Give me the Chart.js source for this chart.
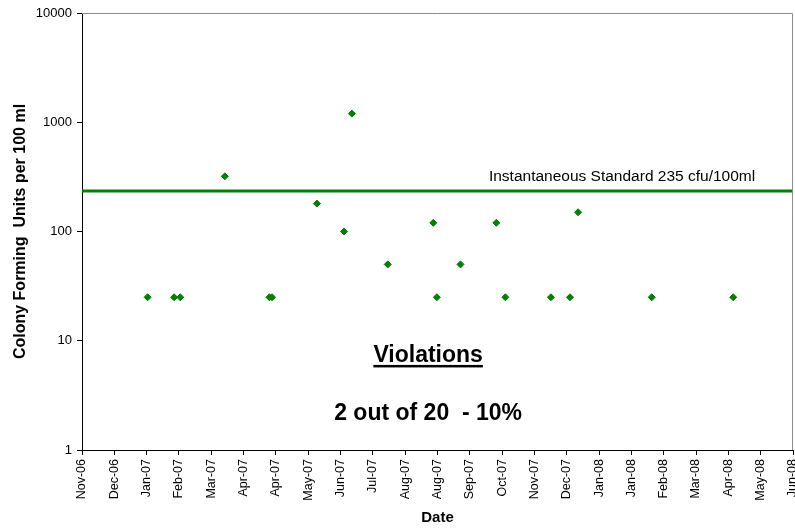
<!DOCTYPE html>
<html>
<head>
<meta charset="utf-8">
<script src="https://cdn.jsdelivr.net/npm/chart.js@4/dist/chart.umd.min.js"></script>
<style>
  html, body { margin: 0; padding: 0; background: #fff; }
  #wrap { width: 795px; height: 529px; }
</style>
</head>
<body>
<div id="wrap"><canvas id="cfu-chart" width="795" height="529"></canvas></div>
<script>
// date axis labels (Excel-style, one tick per step)
const dateTickLabels = ['Nov-06', 'Dec-06', 'Jan-07', 'Feb-07', 'Mar-07', 'Apr-07', 'Apr-07', 'May-07',
  'Jun-07', 'Jul-07', 'Aug-07', 'Aug-07', 'Sep-07', 'Oct-07', 'Nov-07', 'Dec-07', 'Jan-08', 'Jan-08',
  'Feb-08', 'Mar-08', 'Apr-08', 'May-08', 'Jun-08'];

// sample position along the date axis, in tick steps from Nov-06
const samplePos = [2.03, 2.85, 3.04, 4.42, 5.80, 5.88, 7.27, 8.11, 8.35, 9.46,
  10.87, 10.98, 11.71, 12.82, 13.10, 14.51, 15.10, 15.35, 17.63, 20.15];
// colony forming units per 100 ml
const sampleCfu = [25, 25, 25, 320, 25, 25, 180, 100, 1200, 50,
  120, 25, 50, 120, 25, 25, 25, 150, 25, 25];

const yTickValues = [1, 10, 100, 1000, 10000];
const standardCfu = 235;
const standardLabel = 'Instantaneous Standard 235 cfu/100ml';
const noteTitle = 'Violations';
const noteText = '2 out of 20  - 10%';

const green = '#008000';
const fontFamily = "'Liberation Sans', Arial, sans-serif";

const points = samplePos.map((x, i) => ({ x: x, y: sampleCfu[i] }));
const standardLine = [{ x: 0, y: standardCfu }, { x: dateTickLabels.length - 1, y: standardCfu }];

const extras = {
  id: 'extras',
  afterDraw(chart) {
    const ctx = chart.ctx;
    const a = chart.chartArea;
    const xs = chart.scales.x, ys = chart.scales.y;
    ctx.save();
    // gray frame on top and right
    ctx.strokeStyle = '#8c8c8c';
    ctx.lineWidth = 1;
    ctx.beginPath();
    ctx.moveTo(a.left, a.top + 0.5);
    ctx.lineTo(a.right - 0.5, a.top + 0.5);
    ctx.lineTo(a.right - 0.5, a.bottom);
    ctx.stroke();

    // standard label
    ctx.fillStyle = '#000';
    ctx.font = '15.5px ' + fontFamily;
    ctx.textAlign = 'center';
    ctx.textBaseline = 'alphabetic';
    ctx.fillText(standardLabel, xs.getPixelForValue(16.71), ys.getPixelForValue(standardCfu) - 10);

    // violations note
    const cx = xs.getPixelForValue(10.71);
    ctx.font = 'bold 23px ' + fontFamily;
    const y1 = ys.getPixelForValue(6.4);
    ctx.fillText(noteTitle, cx, y1);
    const w = ctx.measureText(noteTitle).width;
    ctx.fillRect(cx - w / 2, y1 + 3, w, 2.5);
    ctx.fillText(noteText, cx, ys.getPixelForValue(1.9));
    ctx.restore();
  }
};

new Chart(document.getElementById('cfu-chart'), {
  type: 'scatter',
  data: {
    datasets: [{
      label: 'Samples',
      data: points,
      pointStyle: 'rectRot',
      pointRadius: 3.5,
      pointBorderWidth: 1,
      backgroundColor: green,
      borderColor: green,
      order: 1
    }, {
      label: 'Standard',
      type: 'line',
      data: standardLine,
      borderColor: green,
      borderWidth: 3,
      pointRadius: 0,
      fill: false,
      order: 2
    }]
  },
  options: {
    responsive: false,
    devicePixelRatio: 1,
    animation: false,
    layout: { autoPadding: false, padding: { top: 13, right: 2, left: 0, bottom: 0 } },
    plugins: {
      legend: { display: false },
      tooltip: { enabled: false }
    },
    scales: {
      x: {
        type: 'linear',
        min: 0,
        max: dateTickLabels.length - 1,
        afterBuildTicks: (scale) => {
          scale.ticks = dateTickLabels.map((_, i) => ({ value: i }));
        },
        afterFit: (scale) => {
          scale.height = 79;
          scale.paddingLeft = 0;
          scale.paddingRight = 0;
        },
        ticks: {
          autoSkip: false,
          minRotation: 90,
          maxRotation: 90,
          padding: 4,
          color: '#000',
          font: { family: fontFamily, size: 12.5 },
          callback: (v) => dateTickLabels[v]
        },
        grid: { drawOnChartArea: false, drawTicks: true, tickLength: 5, color: '#000' },
        border: { display: true, color: '#000', width: 1 },
        title: {
          display: true,
          text: 'Date',
          color: '#000',
          font: { family: fontFamily, size: 15, weight: 'bold' },
          padding: { top: 0, bottom: 2 }
        }
      },
      y: {
        type: 'logarithmic',
        min: 1,
        max: 10000,
        afterBuildTicks: (scale) => {
          scale.ticks = yTickValues.map(v => ({ value: v, major: true }));
        },
        afterFit: (scale) => {
          scale.width = 82;
          scale.paddingTop = 0;
          scale.paddingBottom = 0;
        },
        ticks: {
          padding: 5,
          color: '#000',
          font: { family: fontFamily, size: 13 },
          callback: (v) => String(v)
        },
        grid: { drawOnChartArea: false, drawTicks: true, tickLength: 5, color: '#000' },
        border: { display: true, color: '#000', width: 1 },
        title: {
          display: true,
          text: 'Colony Forming  Units per 100 ml',
          color: '#000',
          font: { family: fontFamily, size: 16, weight: 'bold' },
          padding: { top: 11, bottom: 0 }
        }
      }
    }
  },
  plugins: [extras]
});
</script>
</body>
</html>
